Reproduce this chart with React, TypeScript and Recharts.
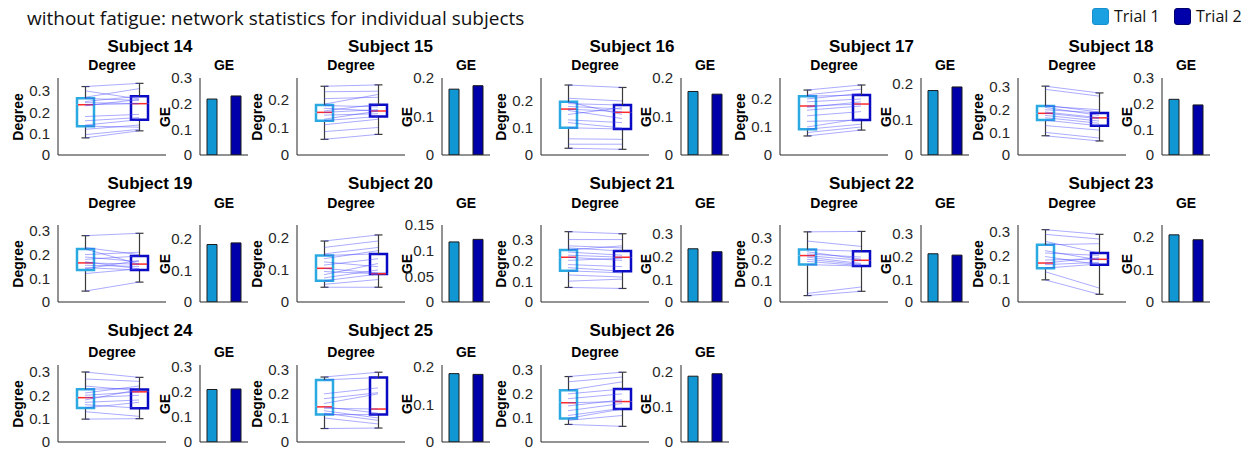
import React from 'react';
import { ComposedChart, BarChart, Bar, Line, XAxis, YAxis, Cell } from 'recharts';

const TRIALS = ['Trial 1', 'Trial 2'];
const SUBJECTS = [14, 15, 16, 17, 18, 19, 20, 21, 22, 23, 24, 25, 26];

// degree boxplot stats per subject: [min, q1, median, q3, max]
const BOX_T1 = [
  [0.08, 0.135, 0.235, 0.265, 0.32],
  [0.057, 0.125, 0.155, 0.182, 0.25],
  [0.025, 0.101, 0.17, 0.197, 0.259],
  [0.068, 0.092, 0.175, 0.21, 0.232],
  [0.085, 0.154, 0.184, 0.216, 0.304],
  [0.046, 0.135, 0.165, 0.224, 0.28],
  [0.046, 0.066, 0.105, 0.145, 0.19],
  [0.07, 0.15, 0.215, 0.25, 0.338],
  [0.03, 0.175, 0.217, 0.245, 0.328],
  [0.095, 0.145, 0.167, 0.245, 0.31],
  [0.098, 0.146, 0.19, 0.226, 0.3],
  [0.056, 0.114, 0.146, 0.258, 0.27],
  [0.073, 0.098, 0.163, 0.215, 0.272],
];
const BOX_T2 = [
  [0.113, 0.165, 0.24, 0.275, 0.335],
  [0.075, 0.14, 0.16, 0.183, 0.255],
  [0.021, 0.096, 0.158, 0.185, 0.25],
  [0.089, 0.125, 0.182, 0.214, 0.25],
  [0.062, 0.129, 0.164, 0.186, 0.274],
  [0.084, 0.135, 0.16, 0.194, 0.29],
  [0.046, 0.087, 0.088, 0.15, 0.209],
  [0.065, 0.148, 0.215, 0.245, 0.328],
  [0.05, 0.168, 0.195, 0.237, 0.33],
  [0.033, 0.16, 0.183, 0.21, 0.29],
  [0.1, 0.145, 0.215, 0.225, 0.277],
  [0.058, 0.114, 0.137, 0.268, 0.29],
  [0.065, 0.137, 0.168, 0.22, 0.29],
];

// global efficiency
const GE_T1 = [0.218, 0.171, 0.165, 0.18, 0.217, 0.183, 0.117, 0.235, 0.213, 0.205, 0.208, 0.182, 0.188];
const GE_T2 = [0.23, 0.18, 0.158, 0.19, 0.195, 0.188, 0.122, 0.222, 0.207, 0.19, 0.21, 0.18, 0.195];

const DEG_MAX = [0.36, 0.28, 0.285, 0.275, 0.34, 0.325, 0.24, 0.37, 0.36, 0.33, 0.33, 0.32, 0.32];
const DEG_TICKS = [
  [0, 0.1, 0.2, 0.3], [0, 0.1, 0.2], [0, 0.1, 0.2], [0, 0.1, 0.2], [0, 0.1, 0.2, 0.3],
  [0, 0.1, 0.2, 0.3], [0, 0.1, 0.2], [0, 0.1, 0.2, 0.3], [0, 0.1, 0.2, 0.3], [0, 0.1, 0.2, 0.3],
  [0, 0.1, 0.2, 0.3], [0, 0.1, 0.2, 0.3], [0, 0.1, 0.2, 0.3],
];
const GE_MAX = [0.3, 0.2, 0.2, 0.215, 0.3, 0.245, 0.15, 0.34, 0.34, 0.235, 0.305, 0.205, 0.22];
const GE_TICKS = [
  [0, 0.1, 0.2, 0.3], [0, 0.1, 0.2], [0, 0.1, 0.2], [0, 0.1, 0.2], [0, 0.1, 0.2, 0.3],
  [0, 0.1, 0.2], [0, 0.05, 0.1, 0.15], [0, 0.1, 0.2, 0.3], [0, 0.1, 0.2, 0.3], [0, 0.1, 0.2],
  [0, 0.1, 0.2, 0.3], [0, 0.1, 0.2], [0, 0.1, 0.2],
];

// node degree pairs [trial 1, trial 2]
const NODES_S14 = [[0.32, 0.335], [0.3, 0.262], [0.27, 0.31], [0.265, 0.255], [0.25, 0.275], [0.245, 0.24], [0.235, 0.24], [0.23, 0.26], [0.18, 0.19], [0.16, 0.175], [0.14, 0.165], [0.135, 0.13], [0.12, 0.14], [0.095, 0.12], [0.08, 0.113]];
const NODES_S15 = [[0.25, 0.255], [0.23, 0.232], [0.205, 0.21], [0.185, 0.22], [0.18, 0.175], [0.17, 0.16], [0.16, 0.185], [0.155, 0.165], [0.145, 0.15], [0.13, 0.16], [0.125, 0.14], [0.11, 0.13], [0.085, 0.1], [0.057, 0.075]];
const NODES_S16 = [[0.259, 0.25], [0.21, 0.2], [0.197, 0.15], [0.19, 0.185], [0.18, 0.17], [0.17, 0.16], [0.165, 0.135], [0.15, 0.175], [0.13, 0.12], [0.12, 0.1], [0.101, 0.096], [0.06, 0.058], [0.04, 0.04], [0.025, 0.021]];
const NODES_S17 = [[0.232, 0.25], [0.215, 0.235], [0.21, 0.214], [0.2, 0.22], [0.19, 0.2], [0.175, 0.182], [0.17, 0.19], [0.16, 0.175], [0.14, 0.155], [0.12, 0.125], [0.1, 0.13], [0.092, 0.11], [0.08, 0.1], [0.068, 0.089]];
const NODES_S18 = [[0.304, 0.274], [0.29, 0.26], [0.22, 0.19], [0.216, 0.2], [0.21, 0.175], [0.2, 0.186], [0.19, 0.165], [0.185, 0.16], [0.175, 0.15], [0.165, 0.14], [0.154, 0.129], [0.13, 0.11], [0.1, 0.075], [0.085, 0.062]];
const NODES_S19 = [[0.28, 0.29], [0.23, 0.2], [0.224, 0.16], [0.2, 0.21], [0.19, 0.17], [0.18, 0.194], [0.17, 0.14], [0.165, 0.16], [0.155, 0.15], [0.145, 0.135], [0.14, 0.175], [0.12, 0.14], [0.046, 0.084]];
const NODES_S20 = [[0.19, 0.209], [0.17, 0.19], [0.15, 0.17], [0.145, 0.15], [0.135, 0.16], [0.125, 0.11], [0.115, 0.135], [0.105, 0.09], [0.095, 0.088], [0.085, 0.12], [0.075, 0.1], [0.066, 0.087], [0.055, 0.07], [0.046, 0.046]];
const NODES_S21 = [[0.338, 0.328], [0.3, 0.3], [0.27, 0.26], [0.26, 0.245], [0.25, 0.27], [0.24, 0.225], [0.225, 0.215], [0.215, 0.2], [0.2, 0.21], [0.18, 0.17], [0.165, 0.148], [0.15, 0.14], [0.13, 0.12], [0.1, 0.11], [0.07, 0.065]];
const NODES_S22 = [[0.328, 0.33], [0.285, 0.26], [0.245, 0.237], [0.235, 0.2], [0.225, 0.21], [0.217, 0.195], [0.21, 0.18], [0.2, 0.175], [0.19, 0.17], [0.175, 0.168], [0.04, 0.07], [0.03, 0.05]];
const NODES_S23 = [[0.31, 0.29], [0.29, 0.27], [0.26, 0.21], [0.245, 0.25], [0.22, 0.18], [0.21, 0.2], [0.195, 0.16], [0.18, 0.185], [0.167, 0.19], [0.16, 0.17], [0.145, 0.163], [0.13, 0.06], [0.095, 0.033]];
const NODES_S24 = [[0.3, 0.277], [0.27, 0.26], [0.24, 0.22], [0.226, 0.23], [0.21, 0.24], [0.2, 0.215], [0.19, 0.2], [0.18, 0.225], [0.17, 0.18], [0.16, 0.145], [0.146, 0.17], [0.13, 0.11], [0.098, 0.1]];
const NODES_S25 = [[0.27, 0.29], [0.258, 0.268], [0.2, 0.225], [0.18, 0.205], [0.16, 0.2], [0.146, 0.12], [0.14, 0.137], [0.13, 0.1], [0.12, 0.09], [0.114, 0.114], [0.1, 0.075], [0.056, 0.058]];
const NODES_S26 = [[0.272, 0.29], [0.25, 0.27], [0.215, 0.25], [0.2, 0.22], [0.18, 0.2], [0.163, 0.168], [0.15, 0.175], [0.13, 0.16], [0.11, 0.14], [0.098, 0.137], [0.09, 0.11], [0.073, 0.065]];
const NODE_PAIRS = [NODES_S14, NODES_S15, NODES_S16, NODES_S17, NODES_S18, NODES_S19, NODES_S20, NODES_S21, NODES_S22, NODES_S23, NODES_S24, NODES_S25, NODES_S26];

// layout
const COL_DEG_X = [58, 297, 541, 780, 1018];
const COL_GE_X = [200, 442, 681, 921, 1162];
const ROW_TOP = [78, 225, 365];
const ROW_TITLE_Y = [46, 183, 330];
const ROW_SUB_Y = [65, 203, 352];
const AX_H = 77;
const DEG_W = 108;
const GE_W = 48;
const YW = 42;
const MT = 10;
const MB = 10;

const BOX_COLORS = ['#2ba9e1', '#0a0ac4'];
const BAR_COLORS = ['#1196d4', '#0000aa'];
const AXIS = '#262626';
const FONT = '"Liberation Sans", Arial, Helvetica, sans-serif';
const tickStyle = { fontSize: 15, fill: AXIS, fontFamily: FONT };

const WhiskerLow = (p: any) => {
  const cx = p.x + p.width / 2;
  return (
    <g>
      <line x1={cx} x2={cx} y1={p.y} y2={p.y + p.height} stroke="#3a3a3a" strokeWidth={1.2} />
      <line x1={cx - 4} x2={cx + 4} y1={p.y + p.height} y2={p.y + p.height} stroke="#3a3a3a" strokeWidth={1.2} />
    </g>
  );
};
const WhiskerHigh = (p: any) => {
  const cx = p.x + p.width / 2;
  return (
    <g>
      <line x1={cx} x2={cx} y1={p.y} y2={p.y + p.height} stroke="#3a3a3a" strokeWidth={1.2} />
      <line x1={cx - 4} x2={cx + 4} y1={p.y} y2={p.y} stroke="#3a3a3a" strokeWidth={1.2} />
    </g>
  );
};
const BoxLow = (p: any) => {
  const c = BOX_COLORS[p.index];
  const b = p.y + p.height;
  return (
    <path d={`M${p.x},${p.y} L${p.x},${b} L${p.x + p.width},${b} L${p.x + p.width},${p.y}`} fill="none" stroke={c} strokeWidth={2.5} />
  );
};
const BoxHigh = (p: any) => {
  const c = BOX_COLORS[p.index];
  const b = p.y + p.height;
  return (
    <g>
      <path d={`M${p.x},${b} L${p.x},${p.y} L${p.x + p.width},${p.y} L${p.x + p.width},${b}`} fill="none" stroke={c} strokeWidth={2.5} />
      <line x1={p.x + 1} x2={p.x + p.width - 1} y1={b} y2={b} stroke="#ff2a2a" strokeWidth={1.5} />
    </g>
  );
};

function DegreePanel({ k, x, top }: { k: number; x: number; top: number }) {
  const nodes = NODE_PAIRS[k];
  const data = [BOX_T1[k], BOX_T2[k]].map((b, t) => {
    const row: any = { trial: TRIALS[t], base: b[0], wLo: b[1] - b[0], bLo: b[2] - b[1], bHi: b[3] - b[2], wHi: b[4] - b[3] };
    nodes.forEach((pair, i) => { row['n' + i] = pair[t]; });
    return row;
  });
  return (
    <div style={{ position: 'absolute', left: x - YW, top: top - MT }}>
      <ComposedChart width={YW + DEG_W + 4} height={MT + AX_H + 1 + MB} data={data} margin={{ top: MT, right: 4, bottom: MB, left: 0 }}>
        <XAxis dataKey="trial" tick={false} tickLine={false} height={1} axisLine={{ stroke: AXIS }} />
        <YAxis type="number" domain={[0, DEG_MAX[k]]} ticks={DEG_TICKS[k]} interval={0} allowDataOverflow width={YW} tick={tickStyle} tickLine={false} tickSize={4} tickMargin={4} axisLine={{ stroke: AXIS }} />
        {nodes.map((_, i) => (
          <Line key={i} dataKey={'n' + i} stroke="#4040ff" strokeOpacity={0.55} strokeWidth={0.8} dot={false} activeDot={false} isAnimationActive={false} />
        ))}
        <Bar dataKey="base" stackId="box" barSize={17} shape={() => <g />} isAnimationActive={false} />
        <Bar dataKey="wLo" stackId="box" barSize={17} shape={WhiskerLow} isAnimationActive={false} />
        <Bar dataKey="bLo" stackId="box" barSize={17} shape={BoxLow} isAnimationActive={false} />
        <Bar dataKey="bHi" stackId="box" barSize={17} shape={BoxHigh} isAnimationActive={false} />
        <Bar dataKey="wHi" stackId="box" barSize={17} shape={WhiskerHigh} isAnimationActive={false} />
      </ComposedChart>
    </div>
  );
}

function GEPanel({ k, x, top }: { k: number; x: number; top: number }) {
  const data = [GE_T1[k], GE_T2[k]].map((v, t) => ({ trial: TRIALS[t], ge: v }));
  return (
    <div style={{ position: 'absolute', left: x - YW, top: top - MT }}>
      <BarChart width={YW + GE_W + 4} height={MT + AX_H + 1 + MB} data={data} margin={{ top: MT, right: 4, bottom: MB, left: 0 }}>
        <XAxis dataKey="trial" tick={false} tickLine={false} height={1} axisLine={{ stroke: AXIS }} />
        <YAxis type="number" domain={[0, GE_MAX[k]]} ticks={GE_TICKS[k]} interval={0} allowDataOverflow width={YW} tick={tickStyle} tickLine={false} tickSize={4} tickMargin={4} axisLine={{ stroke: AXIS }} />
        <Bar dataKey="ge" barSize={10} stroke="#1a1a1a" strokeWidth={1} isAnimationActive={false}>
          {data.map((_, i) => <Cell key={i} fill={BAR_COLORS[i]} />)}
        </Bar>
      </BarChart>
    </div>
  );
}

function Txt({ x, y, size, bold, rotate, font, children }: any) {
  return (
    <div style={{
      position: 'absolute', left: x, top: y, transform: `translate(-50%, -50%)${rotate ? ' rotate(-90deg)' : ''}`,
      fontSize: size, fontWeight: bold ? 700 : 400, fontFamily: font || FONT, color: '#000', whiteSpace: 'nowrap', lineHeight: 1,
    }}>{children}</div>
  );
}

export default function App() {
  return (
    <div style={{ position: 'absolute', left: 0, top: 0, width: 1252, height: 449, background: '#fff', overflow: 'hidden' }}>
      <div style={{ position: 'absolute', left: 27, top: 5, fontSize: 19, fontFamily: '"Open Sans", sans-serif', color: '#111', whiteSpace: 'nowrap' }}>
        without fatigue: network statistics for individual subjects
      </div>
      {TRIALS.map((t, i) => (
        <div key={t} style={{ position: 'absolute', left: i === 0 ? 1092 : 1174, top: 5, display: 'flex', alignItems: 'center', gap: 5, fontFamily: '"Open Sans", sans-serif', fontSize: 16, color: '#111' }}>
          <div style={{ width: 15, height: 15, borderRadius: 3, background: i === 0 ? '#1ba1e2' : '#0000aa', border: `1px solid ${i === 0 ? '#1790cc' : '#00006a'}` }} />
          <span>{t}</span>
        </div>
      ))}
      {SUBJECTS.map((s, k) => {
        const r = Math.floor(k / 5);
        const c = k % 5;
        const dx = COL_DEG_X[c];
        const gx = COL_GE_X[c];
        const top = ROW_TOP[r];
        return (
          <React.Fragment key={s}>
            <Txt x={(dx + gx + GE_W) / 2 - 3} y={ROW_TITLE_Y[r]} size={17} bold>Subject {s}</Txt>
            <Txt x={dx + DEG_W / 2} y={ROW_SUB_Y[r]} size={14} bold>Degree</Txt>
            <Txt x={gx + GE_W / 2} y={ROW_SUB_Y[r]} size={14} bold>GE</Txt>
            <Txt x={dx - 40} y={top + AX_H / 2} size={14} bold rotate>Degree</Txt>
            <Txt x={gx - 35} y={top + AX_H / 2} size={14} bold rotate>GE</Txt>
            <DegreePanel k={k} x={dx} top={top} />
            <GEPanel k={k} x={gx} top={top} />
          </React.Fragment>
        );
      })}
    </div>
  );
}
